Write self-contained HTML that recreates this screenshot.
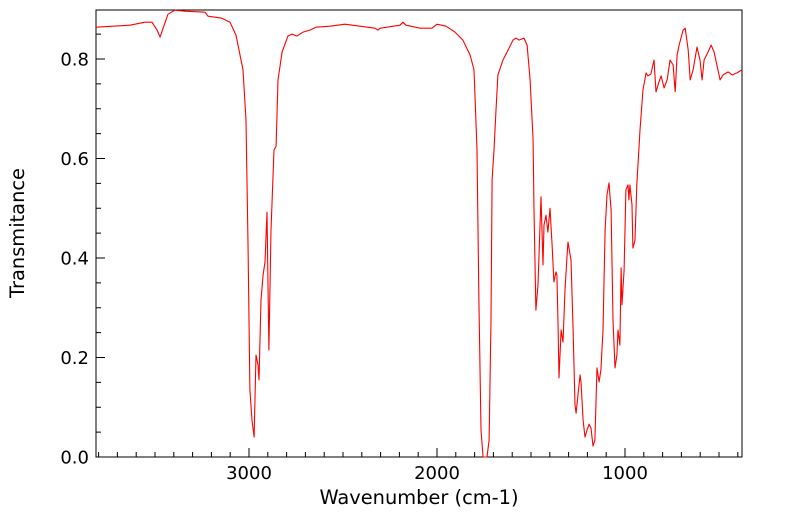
<!DOCTYPE html>
<html><head><meta charset="utf-8"><style>
body{margin:0;background:#fff;}
svg{display:block;font-family:"DejaVu Sans","Liberation Sans",sans-serif;}
</style></head><body>
<svg id="chart" width="799" height="516"></svg>
<script>
const wavenumbers=[3814,3633,3553,3516,3489,3473,3457,3431,3394,3340,3234,3218,3144,3101,3069,3048,3032,3016,3005,2995,2984,2973,2963,2952,2947,2936,2925,2915,2904,2894,2883,2867,2856,2846,2824,2793,2771,2745,2713,2676,2644,2569,2489,2410,2330,2314,2303,2197,2181,2165,2090,2027,2000,1952,1904,1862,1824,1803,1787,1777,1766,1755,1734,1723,1713,1707,1697,1686,1676,1649,1622,1596,1580,1564,1537,1521,1505,1489,1484,1474,1463,1447,1436,1431,1420,1410,1399,1388,1378,1367,1362,1356,1351,1340,1330,1319,1308,1303,1287,1276,1271,1266,1260,1250,1239,1234,1223,1213,1202,1191,1181,1170,1160,1149,1138,1128,1117,1106,1096,1085,1074,1064,1053,1043,1037,1027,1021,1016,1005,995,984,979,974,963,958,947,937,920,904,888,878,862,846,835,819,808,792,776,760,744,733,723,712,691,680,664,653,638,617,601,590,579,558,542,526,510,494,478,451,430,404,378];
const transmittance=[.864,.868,.874,.874,.858,.844,.862,.890,.898,.896,.894,.886,.882,.874,.848,.808,.778,.677,.416,.135,.074,.040,.205,.185,.155,.316,.366,.392,.492,.215,.456,.617,.625,.758,.814,.846,.850,.846,.854,.858,.864,.866,.870,.866,.862,.858,.862,.868,.874,.868,.862,.862,.870,.866,.854,.838,.808,.778,.617,.316,.054,0,0,.034,.276,.557,.617,.697,.768,.798,.818,.838,.842,.838,.842,.828,.758,.637,.496,.295,.346,.523,.386,.466,.486,.452,.500,.426,.352,.372,.366,.261,.159,.255,.231,.336,.406,.432,.396,.255,.175,.105,.088,.125,.165,.151,.074,.040,.054,.066,.058,.022,.034,.179,.151,.175,.255,.456,.527,.551,.496,.275,.179,.205,.255,.225,.380,.306,.376,.537,.547,.517,.547,.507,.420,.436,.547,.657,.738,.772,.766,.770,.798,.734,.754,.766,.742,.758,.798,.788,.734,.808,.828,.858,.862,.818,.758,.778,.824,.798,.758,.798,.814,.828,.814,.786,.758,.768,.774,.768,.772,.778];
const xTickLabels=[3000,2000,1000];
const yTickLabels=[0.0,0.2,0.4,0.6,0.8];

const svg=document.getElementById('chart');
const NS='http://www.w3.org/2000/svg';
const L=96,R=742,T=10,B=457;
function xs(w){return 249+(3000-w)*0.188;}
function ys(v){return 457-v*497.5;}
function mk(tag,attrs){const e=document.createElementNS(NS,tag);for(const k in attrs)e.setAttribute(k,attrs[k]);svg.appendChild(e);return e;}

const frame=mk('rect',{x:L,y:T,width:R-L,height:B-T,fill:'none',stroke:'#000','stroke-width':1});



for(let w=3800;w>=400;w-=100){
  const x=xs(w);if(x<L||x>R)continue;
  const major=w%1000===0;
  const t=mk('line',{x1:x,x2:x,y1:B,y2:B-(major?9:5),stroke:'#000','stroke-width':1});
  
  
}
xTickLabels.forEach(w=>{
  const t=mk('text',{x:xs(w),y:479,'text-anchor':'middle','font-size':18,fill:'#000'});
  t.textContent=String(w);
  
  
});
for(let i=0;i<=17;i++){
  const v=i*0.05;const y=ys(v);if(y<T)continue;
  const major=i%4===0;
  const t=mk('line',{x1:L,x2:L+(major?9:5),y1:y,y2:y,stroke:'#000','stroke-width':1});
  
  
}
yTickLabels.forEach(v=>{
  const t=mk('text',{x:89,y:ys(v)+6.5,'text-anchor':'end','font-size':18,fill:'#000'});
  t.textContent=v.toFixed(1);
  
  
});
const xt=mk('text',{x:419,y:504,'text-anchor':'middle','font-size':19.4,fill:'#000'});
xt.textContent='Wavenumber (cm-1)';


const yt=mk('text',{x:24,y:233,'text-anchor':'middle','font-size':19.4,fill:'#000',transform:'rotate(-90 24 233)'});
yt.textContent='Transmitance';



const pts=wavenumbers.map((w,i)=>xs(w).toFixed(1)+','+ys(transmittance[i]).toFixed(1)).join(' ');
const line=mk('polyline',{points:pts,fill:'none',stroke:'#ff0000','stroke-width':1.1,'stroke-linejoin':'round'});


</script>
</body></html>
